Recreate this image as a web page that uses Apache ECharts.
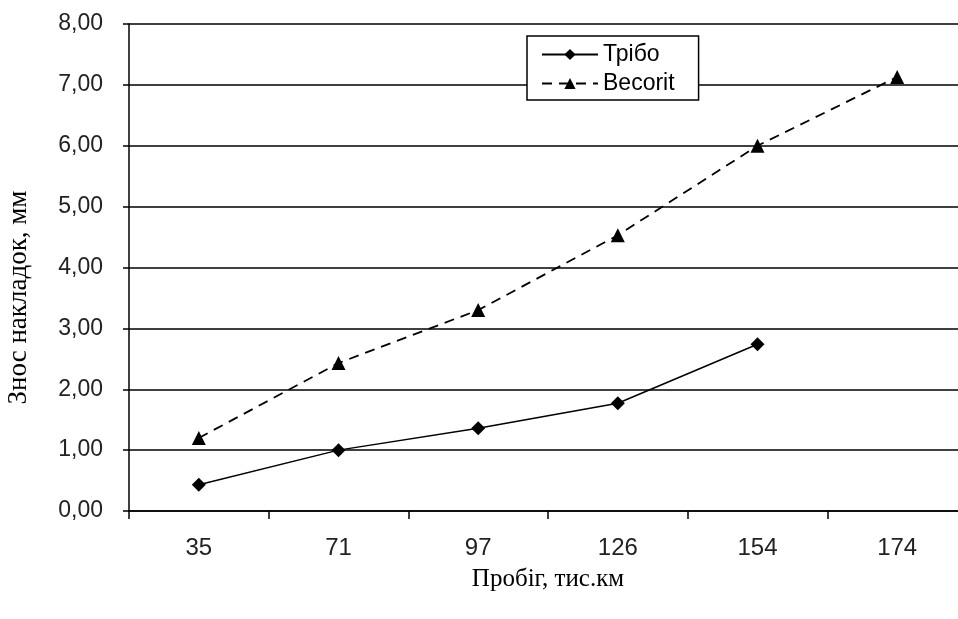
<!DOCTYPE html>
<html>
<head>
<meta charset="utf-8">
<script src="https://cdn.jsdelivr.net/npm/echarts@6/dist/echarts.min.js"></script>
<style>
html,body{margin:0;padding:0;background:#fff;}
#chart{width:958px;height:619px;}
</style>
</head>
<body>
<div id="chart"></div>
<script>
var arrCategories = ['35', '71', '97', '126', '154', '174'];   // пробіг, тис.км
var arrTribo = [0.43, 1.00, 1.36, 1.77, 2.74, null];           // Трібо
var arrBecorit = [1.20, 2.43, 3.30, 4.53, 6.00, 7.13];         // Becorit
var arrNames = ['Трібо', 'Becorit'];

function echaWear(id){
    var myChart = echarts.init(document.getElementById(id));
    var option = {
        animation:false,
        grid:{
            left:129,
            top:24,
            width:838,
            height:487,
            outerBoundsMode:'none',
            containLabel:false,
        },
        legend: {
            data:arrNames,
            orient:'vertical',
            left:527,
            top:36,
            itemWidth:56,
            itemHeight:14,
            itemGap:6,
            padding:[7,24,5,14],
            borderColor:'#000',
            borderWidth:1.5,
            backgroundColor:'#fff',
            textStyle:{
                fontFamily:'Liberation Sans',
                fontSize:23,
                color:'#000',
            }
        },
        xAxis: {
            type:'category',
            data:arrCategories,
            boundaryGap:true,
            name:'Пробіг, тис.км',
            nameLocation:'middle',
            nameGap:56,
            nameTextStyle:{
                fontFamily:'Liberation Serif',
                fontSize:25,
                color:'#000',
            },
            axisLine:{
                lineStyle:{
                    color:'#000',
                    width:1.5,
                }
            },
            axisTick:{
                show:true,
                alignWithLabel:false,
                length:8,
                lineStyle:{
                    color:'#000',
                    width:1.5,
                }
            },
            axisLabel:{
                margin:25,
                fontFamily:'Liberation Sans',
                fontSize:24,
                color:'#222',
            },
            splitLine:{
                show:false
            }
        },
        yAxis: {
            type:'value',
            min:0,
            max:8,
            interval:1,
            name:'Знос накладок, мм',
            nameLocation:'middle',
            nameGap:97,
            nameTextStyle:{
                fontFamily:'Liberation Serif',
                fontSize:27,
                color:'#000',
                padding:[0,60,0,0],
            },
            axisLine:{
                show:true,
                lineStyle:{
                    color:'#000',
                    width:1.5,
                }
            },
            axisTick:{
                show:true,
                length:6,
                lineStyle:{
                    color:'#000',
                    width:1.5,
                }
            },
            axisLabel:{
                margin:26,
                fontFamily:'Liberation Sans',
                fontSize:23,
                color:'#222',
                formatter:function(v){
                    return v.toFixed(2).replace('.', ',');
                }
            },
            splitLine:{
                show:true,
                lineStyle:{
                    color:'#000',
                    width:1.5,
                }
            }
        },
        series: [
            {
                name:'Трібо',
                type:'line',
                color:'#000',
                symbol:'diamond',
                symbolSize:14,
                lineStyle:{
                    width:1.5,
                    type:'solid',
                    color:'#000',
                },
                itemStyle:{
                    color:'#000',
                },
                data:arrTribo,
            },
            {
                name:'Becorit',
                type:'line',
                color:'#000',
                symbol:'triangle',
                symbolSize:14,
                lineStyle:{
                    width:1.8,
                    type:[10,7],
                    color:'#000',
                },
                itemStyle:{
                    color:'#000',
                },
                data:arrBecorit,
            }
        ]
    };
    myChart.setOption(option);
}

echaWear('chart');
</script>
</body>
</html>
